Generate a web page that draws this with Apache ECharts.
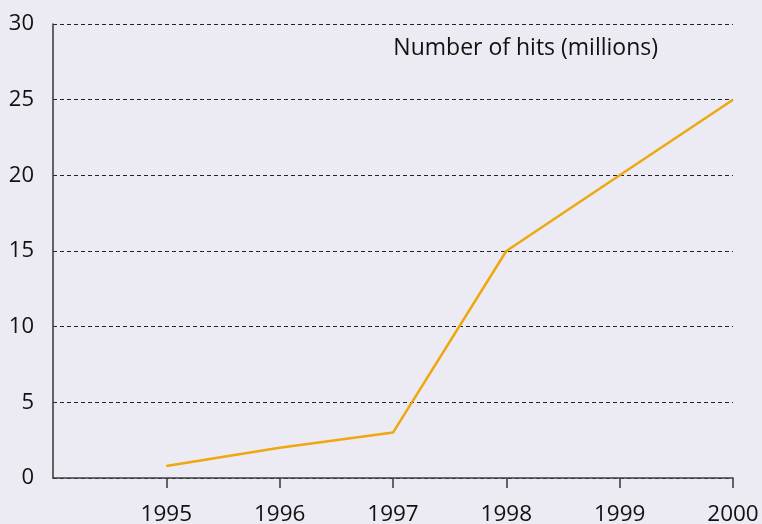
<!DOCTYPE html>
<html>
<head>
    <meta charset="utf-8">
    <title>Number of hits</title>
    <script src="https://cdn.jsdelivr.net/npm/echarts@6/dist/echarts.min.js"></script>
    <style>
        html, body { margin: 0; padding: 0; background: #ecebf3; }
        #chart { width: 762px; height: 524px; }
    </style>
</head>
<body>
    <div id="chart"></div>
    <script>
    var years = [1995, 1996, 1997, 1998, 1999, 2000];
    var hits = [0.8, 2, 3, 15, 20, 25];
    var yTicks = [0, 5, 10, 15, 20, 25, 30];

    var chart = echarts.init(document.getElementById('chart'));
    var points = years.map(function (y, i) { return [y, hits[i]]; });

    chart.setOption({
        backgroundColor: '#ecebf3',
        animation: false,
        textStyle: { fontFamily: 'Open Sans' },
        title: {
            text: 'Number of hits (millions)',
            right: 99,
            top: 32,
            textStyle: { fontSize: 23, fontWeight: 'normal', color: '#111', fontFamily: 'Open Sans' }
        },
        grid: { left: 53, right: 29, top: 24, bottom: 46, outerBoundsMode: 'none' },
        xAxis: {
            type: 'value',
            min: 1994,
            max: 2000,
            interval: 1,
            splitLine: { show: false },
            axisLine: { lineStyle: { color: '#404040', width: 1.6 } },
            axisTick: { show: true, length: 10, customValues: years, lineStyle: { color: '#404040', width: 1.6 } },
            axisLabel: {
                customValues: years,
                margin: 25,
                fontSize: 22.5,
                color: '#111',
                formatter: function (v) { return String(v); }
            }
        },
        yAxis: {
            type: 'value',
            min: 0,
            max: 30,
            interval: 5,
            axisLine: { show: true, lineStyle: { color: '#404040', width: 1.6 } },
            axisTick: { show: false },
            axisLabel: { margin: 19, fontSize: 22, color: '#111' },
            splitLine: { lineStyle: { color: '#222', type: [4, 3], width: 1 } }
        },
        series: [{
            type: 'line',
            data: points,
            symbol: 'none',
            lineStyle: { color: '#eea70e', width: 2.5 }
        }]
    });
    </script>
</body>
</html>
